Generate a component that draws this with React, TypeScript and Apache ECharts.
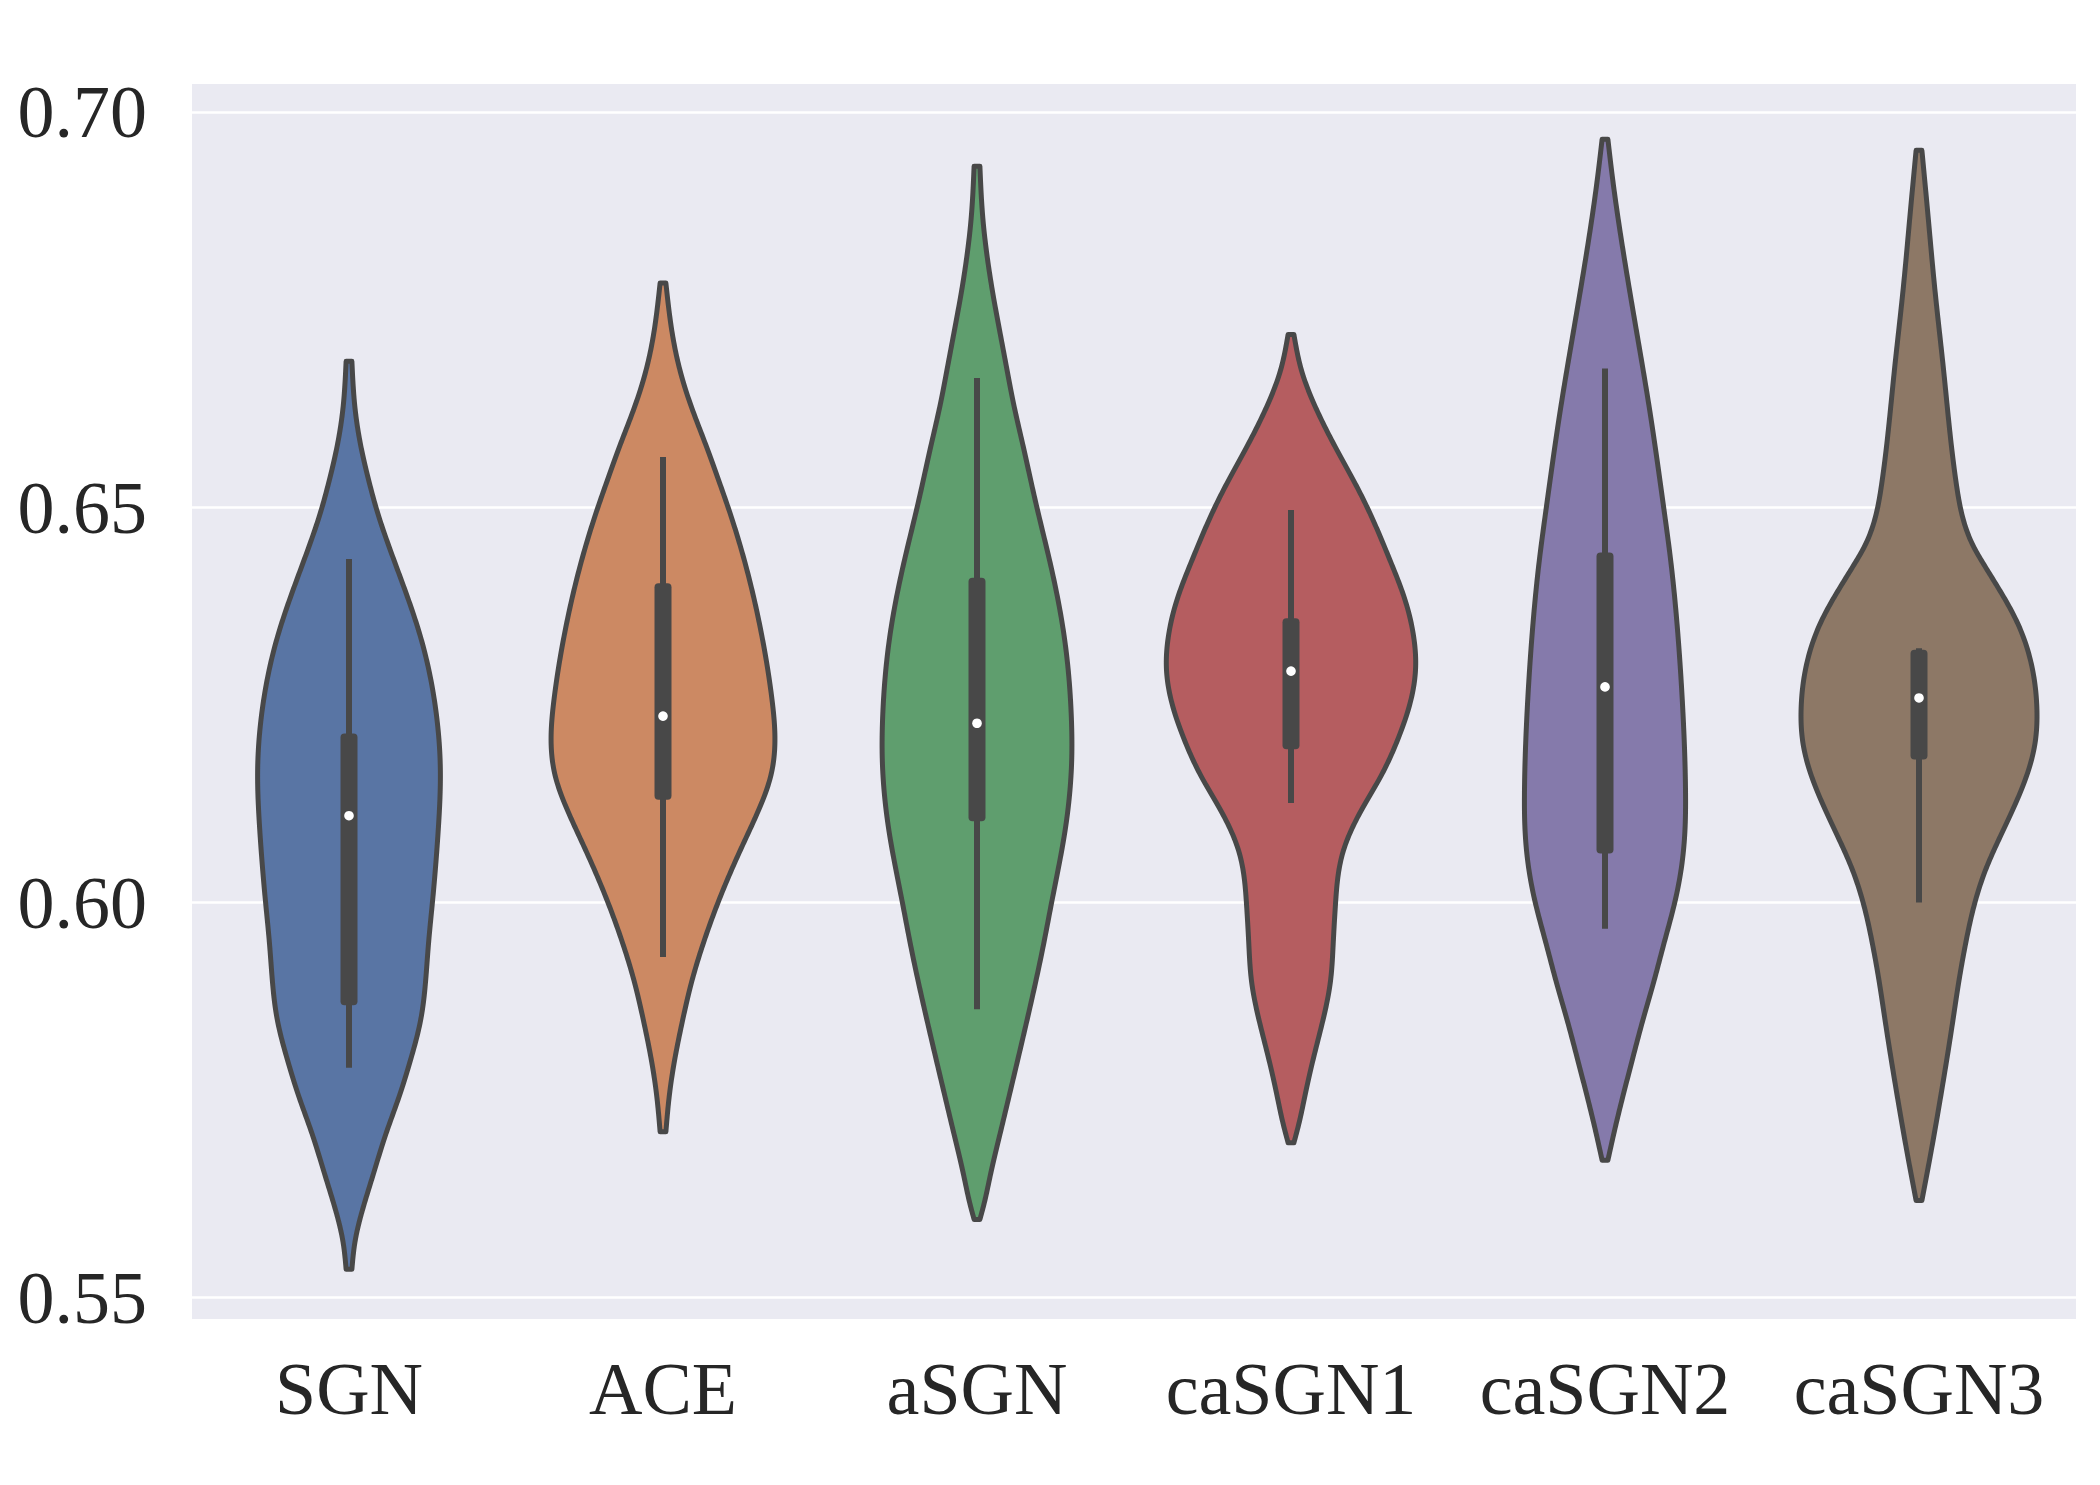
import React, { useEffect, useRef } from "react";
import * as echarts from "echarts";

const categories = ["SGN", "ACE", "aSGN", "caSGN1", "caSGN2", "caSGN3"];
const palette = ["#5975a4", "#cc8963", "#5f9e6e", "#b55d60", "#857aab", "#8d7866"];

// Violin outlines: value levels (top to bottom) and relative density (1 = widest violin)
const sgnLevels = [0.6685, 0.6627, 0.6578, 0.6530, 0.6498, 0.6433, 0.6336, 0.6239, 0.6171, 0.6093, 0.6000, 0.5948, 0.5899, 0.5851, 0.5802, 0.5754, 0.5705, 0.5657, 0.5608, 0.5570, 0.5536];
const sgnDensity = [0.023, 0.047, 0.094, 0.164, 0.219, 0.359, 0.570, 0.695, 0.727, 0.711, 0.664, 0.633, 0.609, 0.570, 0.492, 0.398, 0.289, 0.195, 0.102, 0.047, 0.023];

const aceLevels = [0.6784, 0.6724, 0.6675, 0.6627, 0.6578, 0.6530, 0.6498, 0.6433, 0.6336, 0.6258, 0.6210, 0.6161, 0.6113, 0.6064, 0.6000, 0.5948, 0.5899, 0.5851, 0.5802, 0.5754, 0.5710];
const aceDensity = [0.023, 0.070, 0.133, 0.227, 0.344, 0.453, 0.523, 0.648, 0.789, 0.867, 0.891, 0.859, 0.750, 0.609, 0.438, 0.320, 0.227, 0.156, 0.094, 0.049, 0.023];

const asgnLevels = [0.6932, 0.6869, 0.6821, 0.6772, 0.6724, 0.6675, 0.6627, 0.6578, 0.6530, 0.6498, 0.6433, 0.6336, 0.6239, 0.6181, 0.6093, 0.6000, 0.5948, 0.5851, 0.5754, 0.5705, 0.5657, 0.5618, 0.5599];
const asgnDensity = [0.023, 0.045, 0.078, 0.125, 0.180, 0.238, 0.297, 0.367, 0.434, 0.480, 0.578, 0.695, 0.750, 0.754, 0.703, 0.594, 0.531, 0.398, 0.254, 0.18, 0.109, 0.055, 0.023];

const casgn1Levels = [0.6719, 0.6675, 0.6627, 0.6578, 0.6530, 0.6498, 0.6433, 0.6384, 0.6336, 0.6297, 0.6258, 0.6210, 0.6161, 0.6113, 0.6064, 0.6000, 0.5948, 0.5899, 0.5851, 0.5802, 0.5754, 0.5725, 0.5696];
const casgn1Density = [0.023, 0.081, 0.195, 0.348, 0.512, 0.613, 0.789, 0.906, 0.977, 0.992, 0.957, 0.859, 0.719, 0.547, 0.414, 0.355, 0.336, 0.313, 0.254, 0.177, 0.109, 0.070, 0.023];

const casgn2Levels = [0.6966, 0.6918, 0.6821, 0.6724, 0.6627, 0.6498, 0.6433, 0.6336, 0.6239, 0.6142, 0.6093, 0.6045, 0.6000, 0.5948, 0.5899, 0.5851, 0.5802, 0.5754, 0.5715, 0.5674];
const casgn2Density = [0.023, 0.059, 0.148, 0.25, 0.352, 0.469, 0.523, 0.582, 0.621, 0.641, 0.637, 0.609, 0.555, 0.469, 0.387, 0.301, 0.219, 0.141, 0.081, 0.023];

const casgn3Levels = [0.6952, 0.6869, 0.6772, 0.6675, 0.6578, 0.6530, 0.6498, 0.6475, 0.6452, 0.6428, 0.6404, 0.6355, 0.6307, 0.6248, 0.6200, 0.6142, 0.6084, 0.6045, 0.6000, 0.5948, 0.5899, 0.5851, 0.5754, 0.5676, 0.5623];
const casgn3Density = [0.023, 0.072, 0.129, 0.195, 0.258, 0.297, 0.332, 0.371, 0.430, 0.516, 0.609, 0.781, 0.887, 0.938, 0.922, 0.813, 0.648, 0.539, 0.445, 0.371, 0.316, 0.270, 0.172, 0.086, 0.023];

// Inner box statistics
const whiskerLow = [0.5791, 0.5931, 0.5865, 0.6126, 0.5967, 0.6000];
const q1 = [0.5870, 0.6130, 0.6103, 0.6194, 0.6062, 0.6181];
const median = [0.6110, 0.6236, 0.6227, 0.6293, 0.6273, 0.6259];
const q3 = [0.6214, 0.6404, 0.6411, 0.6360, 0.6443, 0.6320];
const whiskerHigh = [0.6435, 0.6564, 0.6664, 0.6497, 0.6676, 0.6322];

const yMin = 0.5473;
const yMax = 0.7036;

const violins = [
  { levels: sgnLevels, density: sgnDensity },
  { levels: aceLevels, density: aceDensity },
  { levels: asgnLevels, density: asgnDensity },
  { levels: casgn1Levels, density: casgn1Density },
  { levels: casgn2Levels, density: casgn2Density },
  { levels: casgn3Levels, density: casgn3Density },
];

// Natural cubic spline through (xs[k], ys[k]) with xs increasing; sampled densely.
function naturalSpline(xs: number[], ys: number[], step = 2): number[][] {
  const n = xs.length;
  const h: number[] = [];
  for (let k = 0; k < n - 1; k++) h.push(xs[k + 1] - xs[k]);
  const M = new Array(n).fill(0);
  if (n > 2) {
    const a: number[] = [], b: number[] = [], c: number[] = [], d: number[] = [];
    for (let k = 1; k < n - 1; k++) {
      a.push(h[k - 1]);
      b.push(2 * (h[k - 1] + h[k]));
      c.push(h[k]);
      d.push(6 * ((ys[k + 1] - ys[k]) / h[k] - (ys[k] - ys[k - 1]) / h[k - 1]));
    }
    const m = b.length;
    for (let k = 1; k < m; k++) {
      const w = a[k] / b[k - 1];
      b[k] -= w * c[k - 1];
      d[k] -= w * d[k - 1];
    }
    const sol = new Array(m).fill(0);
    sol[m - 1] = d[m - 1] / b[m - 1];
    for (let k = m - 2; k >= 0; k--) sol[k] = (d[k] - c[k] * sol[k + 1]) / b[k];
    for (let k = 0; k < m; k++) M[k + 1] = sol[k];
  }
  const out: number[][] = [];
  for (let k = 0; k < n - 1; k++) {
    const hk = h[k];
    const cnt = Math.max(2, Math.ceil(hk / step));
    for (let s = 0; s < cnt; s++) {
      const x = xs[k] + (hk * s) / cnt;
      const A = (xs[k + 1] - x) / hk;
      const B = (x - xs[k]) / hk;
      const y =
        A * ys[k] + B * ys[k + 1] + ((A * A * A - A) * M[k] + (B * B * B - B) * M[k + 1]) * (hk * hk) / 6;
      out.push([x, Math.max(y, 1)]);
    }
  }
  out.push([xs[n - 1], ys[n - 1]]);
  return out;
}

const GRAY = "#484848";
const FONT = "'Liberation Serif', 'Times New Roman', serif";

export default function App() {
  const ref = useRef<HTMLDivElement>(null);
  useEffect(() => {
    if (!ref.current) return;
    const chart = echarts.init(ref.current, null, { renderer: "svg" });
    const option: any = {
      animation: false,
      backgroundColor: "#ffffff",
      grid: {
        left: 192,
        top: 84,
        width: 1884,
        height: 1235,
        show: true,
        backgroundColor: "#eaeaf2",
        borderWidth: 0,
        containLabel: false,
      },
      xAxis: {
        type: "category",
        data: categories,
        boundaryGap: true,
        axisLine: { show: false },
        axisTick: { show: false },
        splitLine: { show: false },
        axisLabel: {
          interval: 0,
          fontSize: 74,
          fontFamily: FONT,
          color: "#262626",
          margin: 33,
        },
      },
      yAxis: {
        type: "value",
        min: yMin,
        max: yMax,
        splitNumber: 3,
        minInterval: 0.05,
        maxInterval: 0.05,
        axisLine: { show: false },
        axisTick: { show: false },
        splitLine: {
          show: true,
          showMinLine: false,
          showMaxLine: false,
          lineStyle: { color: "#ffffff", width: 2.6 },
        },
        axisLabel: {
          showMinLabel: false,
          showMaxLabel: false,
          fontSize: 74,
          fontFamily: FONT,
          color: "#262626",
          margin: 45,
          formatter: (v: number) => v.toFixed(2),
        },
      },
      series: [
        {
          type: "custom",
          data: categories.map((_, i) => [i, median[i]]),
          encode: { x: 0, y: 1 },
          clip: false,
          renderItem: (params: any, api: any) => {
            const i = params.dataIndex;
            const v = violins[i];
            const band = api.size([1, 0])[0];
            const maxHalf = band * 0.4;
            const cx = api.coord([i, median[i]])[0];
            const ys = v.levels.map((lv) => api.coord([i, lv])[1]);
            const hws = v.density.map((d) => d * maxHalf);
            const prof = naturalSpline(ys, hws, 2);
            const left = prof.map((p) => [cx - p[1], p[0]]);
            const right = prof.map((p) => [cx + p[1], p[0]]).reverse();
            const points = left.concat(right);
            const yWl = api.coord([i, whiskerLow[i]])[1];
            const yWh = api.coord([i, whiskerHigh[i]])[1];
            const yQ1 = api.coord([i, q1[i]])[1];
            const yQ3 = api.coord([i, q3[i]])[1];
            const yMed = api.coord([i, median[i]])[1];
            return {
              type: "group",
              children: [
                {
                  type: "polygon",
                  shape: { points },
                  style: { fill: palette[i], stroke: GRAY, lineWidth: 5, lineJoin: "round" },
                },
                {
                  type: "line",
                  shape: { x1: cx, y1: yWl, x2: cx, y2: yWh },
                  style: { stroke: GRAY, lineWidth: 6 },
                },
                {
                  type: "rect",
                  shape: { x: cx - 8.5, y: yQ3, width: 17, height: yQ1 - yQ3, r: 4 },
                  style: { fill: GRAY },
                },
                {
                  type: "circle",
                  shape: { cx, cy: yMed, r: 4.8 },
                  style: { fill: "#ffffff" },
                },
              ],
            };
          },
        },
      ],
    };
    chart.setOption(option);
    return () => chart.dispose();
  }, []);
  return (
    <div
      ref={ref}
      style={{ position: "fixed", left: 0, top: 0, width: 2100, height: 1485, background: "#fff" }}
    />
  );
}
